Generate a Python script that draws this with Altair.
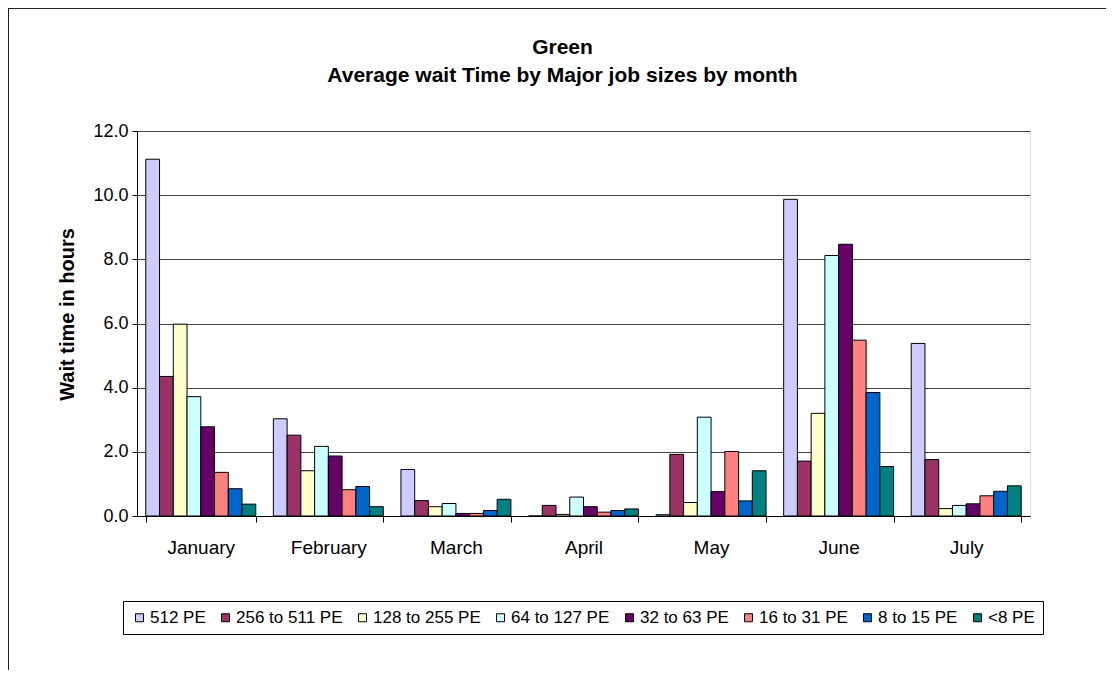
import altair as alt
import pandas as pd

months = ["January", "February", "March", "April", "May", "June", "July"]
series = ["512 PE", "256 to 511 PE", "128 to 255 PE", "64 to 127 PE",
          "32 to 63 PE", "16 to 31 PE", "8 to 15 PE", "<8 PE"]
colors = ["#CCCCFF", "#993366", "#FFFFCC", "#CCFFFF",
          "#660066", "#FF8080", "#0066CC", "#008080"]

pe512 = [11.12, 3.03, 1.45, 0.0, 0.04, 9.87, 5.38]
pe256 = [4.35, 2.52, 0.48, 0.33, 1.92, 1.71, 1.76]
pe128 = [5.98, 1.41, 0.29, 0.05, 0.42, 3.20, 0.23]
pe64 = [3.72, 2.17, 0.39, 0.59, 3.08, 8.12, 0.33]
pe32 = [2.78, 1.87, 0.08, 0.29, 0.76, 8.47, 0.38]
pe16 = [1.36, 0.82, 0.08, 0.12, 2.01, 5.48, 0.63]
pe8 = [0.85, 0.92, 0.17, 0.17, 0.47, 3.85, 0.77]
pe_lt8 = [0.37, 0.29, 0.52, 0.22, 1.41, 1.54, 0.94]

values = [pe512, pe256, pe128, pe64, pe32, pe16, pe8, pe_lt8]

rows = []
for s, vals in zip(series, values):
    for m, v in zip(months, vals):
        rows.append({"month": m, "series": s, "value": v})
df = pd.DataFrame(rows)

FONT = "Liberation Sans"

bars = alt.Chart(df).mark_bar(stroke="black", strokeWidth=1).encode(
    x=alt.X("month:N", sort=months, title=None,
            scale=alt.Scale(paddingInner=0.138, paddingOuter=0.069),
            axis=alt.Axis(labelAngle=0, labelFontSize=19, labelFont=FONT,
                          labelColor="black", tickBand="extent", tickSize=6,
                          tickColor="black", domainColor="black",
                          labelPadding=16, labelBaseline="top")),
    xOffset=alt.XOffset("series:N", sort=series),
    y=alt.Y("value:Q", title="Wait time in hours",
            scale=alt.Scale(domain=[0, 12], nice=False),
            axis=alt.Axis(values=[0, 2, 4, 6, 8, 10, 12], format=".1f",
                          labelFontSize=18, labelFont=FONT, labelColor="black",
                          tickSize=5, tickColor="black", domainColor="black",
                          labelPadding=4, gridColor="#444444",
                          titleFont=FONT, titleFontSize=20, titleFontWeight="bold",
                          titleColor="black", titleX=-70, titleY=183,
                          titleAngle=270, titleAlign="center",
                          titleBaseline="middle")),
    color=alt.Color("series:N", sort=series,
                    scale=alt.Scale(domain=series, range=colors),
                    legend=alt.Legend(title=None, orient="none", legendX=-14,
                                      legendY=470, direction="horizontal",
                                      columns=8, symbolType="square",
                                      symbolSize=64, symbolStrokeColor="black",
                                      symbolStrokeWidth=1, labelFontSize=17,
                                      labelFont=FONT, labelColor="black",
                                      columnPadding=11, labelOffset=2,
                                      strokeColor="black", fillColor="white",
                                      padding=8)),
)

frame = alt.Chart(df).mark_rect(fill=None, stroke="#222222", strokeWidth=2).encode(
    x=alt.value(-129), x2=alt.value(1300), y=alt.value(-123), y2=alt.value(900)
)

chart = alt.layer(frame, bars).properties(
    width=893, height=385,
    autosize=alt.AutoSizeParams(type="none"),
    padding={"left": 129, "top": 123, "right": 76, "bottom": 154},
    title=alt.Title(["Green", "Average wait Time by Major job sizes by month"],
                    font=FONT, fontSize=21, fontWeight="bold", color="black",
                    anchor="middle", dx=-21, offset=0, dy=79, lineHeight=28),
).configure_view(stroke="#888888", strokeWidth=1).configure(background="white")

chart.save("out.html", embed_options={"renderer": "svg", "actions": False})
